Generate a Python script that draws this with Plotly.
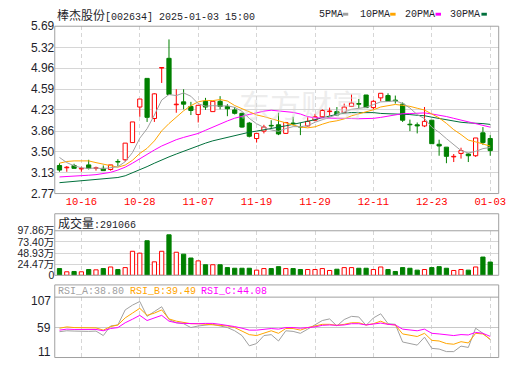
import plotly.graph_objects as go

# ---------------- data ----------------
dates = ["10-11", "10-14", "10-15", "10-16", "10-17", "10-18", "10-21", "10-22", "10-23", "10-24",
         "10-25", "10-28", "10-29", "10-30", "10-31", "11-01", "11-04", "11-05", "11-06", "11-07",
         "11-08", "11-11", "11-12", "11-13", "11-14", "11-15", "11-18", "11-19", "11-20", "11-21",
         "11-22", "11-25", "11-26", "11-27", "11-28", "11-29", "12-02", "12-03", "12-04", "12-05",
         "12-06", "12-09", "12-10", "12-11", "12-12", "12-13", "12-16", "12-17", "12-18", "12-19",
         "12-20", "12-23", "12-24", "12-25", "12-26", "12-27", "12-30", "12-31", "01-02", "01-03"]

opens = [3.26, 3.22, 3.26, 3.20, 3.27, 3.21, 3.21, 3.19, 3.33, 3.36,
         3.66, 4.28, 4.78, 4.08, 4.96, 5.13, 4.32, 4.37, 4.29, 4.15,
         4.38, 4.20, 4.38, 4.29, 4.23, 4.17, 4.00, 3.73, 3.86, 3.96,
         3.97, 3.82, 4.00, 3.94, 3.95, 4.05, 4.11, 4.20, 4.20, 4.18,
         4.29, 4.34, 4.49, 4.27, 4.44, 4.48, 4.40, 4.33, 3.98, 3.97,
         3.95, 4.05, 3.63, 3.58, 3.41, 3.47, 3.46, 3.43, 3.83, 3.73]
highs = [3.30, 3.25, 3.29, 3.24, 3.36, 3.24, 3.26, 3.27, 3.37, 3.65,
         4.02, 4.42, 4.78, 4.52, 4.97, 5.46, 4.59, 4.59, 4.37, 4.31,
         4.44, 4.38, 4.47, 4.33, 4.28, 4.18, 4.02, 3.82, 3.97, 4.05,
         4.18, 4.02, 4.11, 4.00, 4.10, 4.16, 4.24, 4.27, 4.28, 4.34,
         4.50, 4.42, 4.49, 4.40, 4.52, 4.52, 4.48, 4.36, 4.06, 4.01,
         4.28, 4.05, 3.71, 3.58, 3.46, 3.57, 3.48, 3.74, 3.93, 3.79]
lows = [3.15, 3.15, 3.21, 3.15, 3.19, 3.17, 3.17, 3.17, 3.25, 3.33,
        3.66, 4.11, 4.02, 4.02, 4.70, 4.49, 4.18, 4.24, 4.14, 4.01,
        4.23, 4.20, 4.24, 4.12, 4.15, 3.92, 3.75, 3.66, 3.82, 3.90,
        3.79, 3.81, 3.96, 3.79, 3.94, 4.03, 4.10, 4.13, 4.13, 4.17,
        4.28, 4.26, 4.27, 4.24, 4.38, 4.37, 4.34, 4.02, 3.86, 3.82,
        3.93, 3.64, 3.43, 3.30, 3.32, 3.38, 3.32, 3.41, 3.62, 3.43]
closes = [3.18, 3.23, 3.21, 3.21, 3.21, 3.22, 3.17, 3.27, 3.32, 3.65,
          4.02, 4.42, 4.10, 4.51, 4.97, 4.50, 4.33, 4.33, 4.22, 4.31,
          4.28, 4.38, 4.29, 4.25, 4.17, 3.93, 3.77, 3.82, 3.93, 3.95,
          3.81, 4.01, 3.99, 3.93, 4.03, 4.11, 4.22, 4.21, 4.14, 4.28,
          4.35, 4.33, 4.27, 4.38, 4.52, 4.38, 4.39, 4.05, 3.97, 3.95,
          4.03, 3.64, 3.60, 3.42, 3.42, 3.52, 3.43, 3.74, 3.66, 3.52]

ma5 = [3.40, 3.31, 3.255, 3.22, 3.208, 3.216, 3.204, 3.216, 3.238, 3.326,
       3.486, 3.736, 3.902, 4.14, 4.402, 4.498, 4.48, 4.526, 4.468, 4.338,
       4.294, 4.304, 4.296, 4.302, 4.274, 4.204, 4.082, 3.988, 3.924, 3.88,
       3.856, 3.904, 3.938, 3.938, 3.954, 4.014, 4.056, 4.10, 4.142, 4.192,
       4.24, 4.262, 4.274, 4.322, 4.37, 4.376, 4.388, 4.344, 4.262, 4.148,
       4.078, 3.928, 3.838, 3.728, 3.622, 3.52, 3.478, 3.506, 3.554, 3.574]
ma10 = [3.30, 3.33, 3.34, 3.34, 3.34, 3.31, 3.28, 3.25, 3.23, 3.267,
        3.351, 3.470, 3.559, 3.689, 3.864, 3.992, 4.108, 4.214, 4.304, 4.370,
        4.396, 4.392, 4.411, 4.385, 4.306, 4.249, 4.193, 4.142, 4.113, 4.077,
        4.030, 3.993, 3.963, 3.931, 3.917, 3.935, 3.980, 4.019, 4.040, 4.073,
        4.127, 4.159, 4.187, 4.232, 4.281, 4.308, 4.325, 4.309, 4.292, 4.259,
        4.227, 4.158, 4.091, 3.995, 3.885, 3.799, 3.703, 3.672, 3.641, 3.598]
ma20 = [3.06, 3.065, 3.07, 3.08, 3.09, 3.10, 3.115, 3.14, 3.18, 3.23,
        3.30, 3.38, 3.45, 3.53, 3.60, 3.66, 3.71, 3.75, 3.79, 3.819,
        3.874, 3.931, 3.985, 4.037, 4.085, 4.121, 4.151, 4.178, 4.209, 4.224,
        4.213, 4.193, 4.187, 4.158, 4.112, 4.092, 4.087, 4.081, 4.077, 4.075,
        4.079, 4.076, 4.075, 4.082, 4.099, 4.122, 4.153, 4.164, 4.166, 4.166,
        4.177, 4.159, 4.139, 4.114, 4.083, 4.054, 4.014, 3.991, 3.967, 3.929]
ma30 = [2.96, 2.97, 2.98, 2.99, 3.00, 3.01, 3.02, 3.03, 3.05, 3.08,
        3.13, 3.19, 3.24, 3.30, 3.36, 3.41, 3.46, 3.51, 3.56, 3.61,
        3.65, 3.69, 3.72, 3.76, 3.79, 3.82, 3.84, 3.86, 3.88, 3.905,
        3.926, 3.952, 3.978, 4.002, 4.029, 4.059, 4.094, 4.125, 4.152, 4.173,
        4.184, 4.181, 4.187, 4.183, 4.168, 4.164, 4.166, 4.157, 4.148, 4.136,
        4.128, 4.103, 4.080, 4.053, 4.028, 4.014, 4.003, 4.000, 3.991, 3.977]

# volume in 万 (10k shares)
volume = [14.8, 7.7, 8.4, 7.7, 12.7, 12.0, 14.8, 18.3, 12.7, 16.9,
          52.8, 48.6, 76.0, 29.6, 52.8, 88.96, 50.7, 46.5, 38.0, 31.7,
          23.2, 23.2, 23.2, 16.9, 15.5, 15.5, 15.5, 11.3, 14.8, 14.8,
          19.0, 14.8, 14.8, 12.7, 12.7, 12.7, 14.8, 10.6, 13.4, 16.9,
          16.9, 15.5, 15.5, 12.7, 18.3, 12.7, 8.4, 16.9, 15.5, 11.3,
          12.7, 16.9, 19.0, 15.5, 10.6, 12.7, 11.3, 18.3, 40.1, 29.1]

rsi_a = [51.6, 53.1, 52.6, 52.1, 52.1, 52.6, 45.4, 60.8, 62.4, 86.5,
         94.2, 100.0, 76.2, 83.9, 91.6, 71.1, 65.9, 64.4, 58.2, 60.8,
         62.4, 63.4, 60.8, 58.2, 53.1, 45.4, 29.0, 32.6, 45.4, 46.9,
         36.7, 53.1, 52.1, 49.0, 55.7, 62.4, 69.5, 72.1, 60.8, 71.1,
         76.2, 75.2, 61.8, 73.7, 80.3, 64.4, 63.4, 35.1, 32.6, 30.1,
         42.8, 24.9, 23.8, 19.7, 19.7, 28.5, 26.4, 57.2, 49.0, 38.80]
rsi_b = [57.2, 59.3, 58.2, 58.2, 57.7, 57.7, 54.1, 59.8, 62.4, 73.7,
         81.4, 89.1, 77.8, 81.4, 86.5, 72.1, 68.5, 65.9, 64.4, 64.4,
         63.4, 63.4, 62.4, 60.8, 58.2, 53.1, 46.9, 45.4, 49.0, 53.1,
         49.0, 56.7, 56.7, 54.1, 58.2, 60.8, 63.4, 63.4, 61.8, 63.4,
         65.9, 65.9, 62.4, 64.4, 68.5, 63.4, 62.4, 48.0, 45.4, 43.9,
         49.0, 37.7, 36.7, 32.6, 31.5, 35.6, 33.6, 49.0, 48.0, 39.49]
rsi_c = [54.1, 55.7, 55.2, 55.2, 55.2, 55.2, 53.1, 56.7, 58.2, 65.9,
         71.6, 77.8, 69.5, 73.1, 77.8, 68.5, 65.9, 64.9, 64.4, 64.4,
         64.9, 64.9, 63.4, 61.8, 59.8, 57.2, 54.1, 54.1, 55.7, 56.7,
         55.7, 58.2, 58.2, 57.2, 58.2, 59.3, 61.8, 62.4, 61.8, 62.4,
         64.4, 64.4, 62.4, 63.4, 65.4, 63.4, 62.4, 55.7, 54.1, 53.1,
         55.7, 49.0, 48.0, 46.4, 45.4, 47.0, 46.4, 50.5, 49.0, 44.08]

price_ticks = [2.77, 3.13, 3.50, 3.86, 4.23, 4.59, 4.96, 5.32, 5.69]
vol_ticks = [0, 24.47, 48.93, 73.40, 97.86]
vol_tick_text = ["0", "24.47万", "48.93万", "73.40万", "97.86万"]
rsi_ticks = [11, 59, 107]
date_labels = ["10-16", "10-28", "11-07", "11-19", "11-29", "12-11", "12-23", "01-03"]

title_name = "棒杰股份"
title_rest = "[002634] 2025-01-03 15:00"
vol_title = "成交量"
vol_last = "291066"

# ---------------- styling ----------------
W, H = 520, 365
RED = "#FF0000"
GREEN = "#008000"
C_MA5, C_MA10, C_MA20, C_MA30 = "#A0A0A0", "#FFA500", "#FF00FF", "#00703C"
BORDER = "#A0A0A0"
GRID = "#D6D6D6"
TXT = "#1E1E2A"
MONO = "Liberation Mono"
CJK = "Noto Sans CJK SC"


def px(x):
    return x / W


def py(y):
    return 1 - y / H


X_L, X_R = 56.0, 505.5
xs = list(range(len(dates)))
up = [c >= o for o, c in zip(opens, closes)]
label_idx = [dates.index(d) for d in date_labels]
x_range = [-0.58, 60.16]

fig = go.Figure()

# candle wicks (drawn outside the body so hollow bodies stay empty)
for sel, col in [(True, RED), (False, GREEN)]:
    wx, wy = [], []
    for i in xs:
        if up[i] != sel:
            continue
        top = max(opens[i], closes[i])
        bot = min(opens[i], closes[i])
        wx += [i, i, None, i, i, None]
        wy += [highs[i], top, None, bot, lows[i], None]
    fig.add_trace(go.Scatter(x=wx, y=wy, mode="lines", line=dict(color=col, width=1),
                             xaxis="x", yaxis="y", hoverinfo="skip"))

# candle bodies
for sel, fill, col in [(True, "white", RED), (False, GREEN, GREEN)]:
    ids = [i for i in xs if up[i] == sel]
    fig.add_trace(go.Bar(
        x=ids,
        base=[min(opens[i], closes[i]) for i in ids],
        y=[max(abs(closes[i] - opens[i]), 0.004) for i in ids],
        width=0.58,
        marker=dict(color=fill, line=dict(color=col, width=1)),
        xaxis="x", yaxis="y", hoverinfo="skip"))

# moving averages
for vals, col in [(ma30, C_MA30), (ma20, C_MA20), (ma10, C_MA10), (ma5, C_MA5)]:
    fig.add_trace(go.Scatter(x=xs, y=vals, mode="lines", line=dict(color=col, width=1),
                             xaxis="x", yaxis="y", hoverinfo="skip"))

# volume
for sel, fill, col in [(True, "white", RED), (False, GREEN, GREEN)]:
    ids = [i for i in xs if up[i] == sel]
    fig.add_trace(go.Bar(
        x=ids, y=[volume[i] for i in ids], width=0.58,
        marker=dict(color=fill, line=dict(color=col, width=1)),
        xaxis="x2", yaxis="y2", hoverinfo="skip"))

# RSI
for vals, col in [(rsi_a, C_MA5), (rsi_b, C_MA10), (rsi_c, C_MA20)]:
    fig.add_trace(go.Scatter(x=xs, y=vals, mode="lines", line=dict(color=col, width=1),
                             xaxis="x3", yaxis="y3", hoverinfo="skip"))

xcommon = dict(domain=[px(X_L), px(X_R)], range=x_range, tickvals=label_idx,
               showgrid=True, gridcolor=GRID, griddash="4px,3px", gridwidth=1,
               zeroline=False, showline=False, ticks="", fixedrange=True)

fig.update_layout(
    width=W, height=H,
    margin=dict(l=0, r=0, t=0, b=0, pad=0),
    paper_bgcolor="white", plot_bgcolor="white",
    showlegend=False, barmode="overlay",
    font=dict(family="Liberation Sans", size=12, color=TXT),
    xaxis=dict(**xcommon, anchor="y", ticktext=date_labels,
               tickfont=dict(family=MONO, size=10.5, color=RED)),
    xaxis2=dict(**xcommon, anchor="y2", showticklabels=False),
    xaxis3=dict(**xcommon, anchor="y3", showticklabels=False),
    yaxis=dict(domain=[py(194), py(20)], range=[price_ticks[0], price_ticks[-1]],
               tickvals=price_ticks, ticktext=["%.2f" % v for v in price_ticks],
               showgrid=True, gridcolor=GRID, zeroline=False, showline=False, ticks="",
               tickfont=dict(family="Liberation Sans", size=12, color=TXT), fixedrange=True),
    yaxis2=dict(domain=[py(279), py(232.7)], range=[vol_ticks[0], vol_ticks[-1]],
                tickvals=vol_ticks, ticktext=vol_tick_text,
                showgrid=True, gridcolor=GRID, zeroline=False, showline=False, ticks="",
                tickfont=dict(family="Liberation Sans, Noto Sans CJK SC", size=10.5, color=TXT),
                fixedrange=True),
    yaxis3=dict(domain=[py(364), py(301.7)], range=[rsi_ticks[0], rsi_ticks[-1]],
                tickvals=[rsi_ticks[1]], showticklabels=False,
                showgrid=True, gridcolor="#C8C8C8", zeroline=False, showline=False, ticks="",
                fixedrange=True),
)

shapes = []
# panel boxes
for (y0, y1) in [(20, 194), (215, 279), (289, 364.5)]:
    shapes.append(dict(type="rect", xref="paper", yref="paper", x0=px(X_L - 0.5), x1=px(X_R),
                       y0=py(y1), y1=py(y0), line=dict(color=BORDER, width=1), layer="above"))
for yline in [232.7, 301.7]:
    shapes.append(dict(type="line", xref="paper", yref="paper", x0=px(X_L - 0.5), x1=px(X_R),
                       y0=py(yline), y1=py(yline), line=dict(color=BORDER, width=1)))
# legend swatches
for x0, col in [(347.5, C_MA5), (395.5, C_MA10), (441.5, C_MA20), (488, C_MA30)]:
    shapes.append(dict(type="rect", xref="paper", yref="paper", x0=px(x0), x1=px(x0 + 5.5),
                       y0=py(9), y1=py(6), fillcolor=col, line=dict(width=0)))
fig.update_layout(shapes=shapes)

ann = []
ann.append(dict(x=px(56), y=py(8), xref="paper", yref="paper", xanchor="left", yanchor="middle",
                showarrow=False,
                text='<span style="font-family:%s;font-size:12px">%s</span>%s' % (CJK, title_name, title_rest),
                font=dict(family=MONO, size=10, color=TXT)))
for x0, t in [(321.5, "5PMA"), (363, "10PMA"), (409, "20PMA"), (454, "30PMA")]:
    ann.append(dict(x=px(x0), y=py(8), xref="paper", yref="paper", xanchor="left", yanchor="middle",
                    showarrow=False, text=t, font=dict(family=MONO, size=10, color=TXT)))
ann.append(dict(x=px(57), y=py(224), xref="paper", yref="paper", xanchor="left", yanchor="middle",
                showarrow=False,
                text='<span style="font-family:%s;font-size:12px">%s</span>:%s' % (CJK, vol_title, vol_last),
                font=dict(family=MONO, size=10, color=TXT)))
for x0, name, vals, col in [(57, "RSI_A", rsi_a, C_MA5), (129.5, "RSI_B", rsi_b, C_MA10),
                            (201.5, "RSI_C", rsi_c, C_MA20)]:
    ann.append(dict(x=px(x0), y=py(295.5), xref="paper", yref="paper", xanchor="left", yanchor="middle",
                    showarrow=False, text="%s:%.2f" % (name, vals[-1]),
                    font=dict(family=MONO, size=10, color=col)))
for yy, v in [(306, rsi_ticks[2]), (334, rsi_ticks[1]), (359, rsi_ticks[0])]:
    ann.append(dict(x=px(53.5), y=py(yy), xref="paper", yref="paper", xanchor="right", yanchor="middle",
                    showarrow=False, text=str(v), font=dict(family="Liberation Sans", size=12, color=TXT)))
# watermark
ann.append(dict(x=px(305), y=py(100), xref="paper", yref="paper", xanchor="center", yanchor="middle",
                showarrow=False, text="东方财富", opacity=0.45,
                font=dict(family=CJK, size=31, color="#D8D8D8")))
fig.update_layout(annotations=ann)

fig.write_html("out.html")
